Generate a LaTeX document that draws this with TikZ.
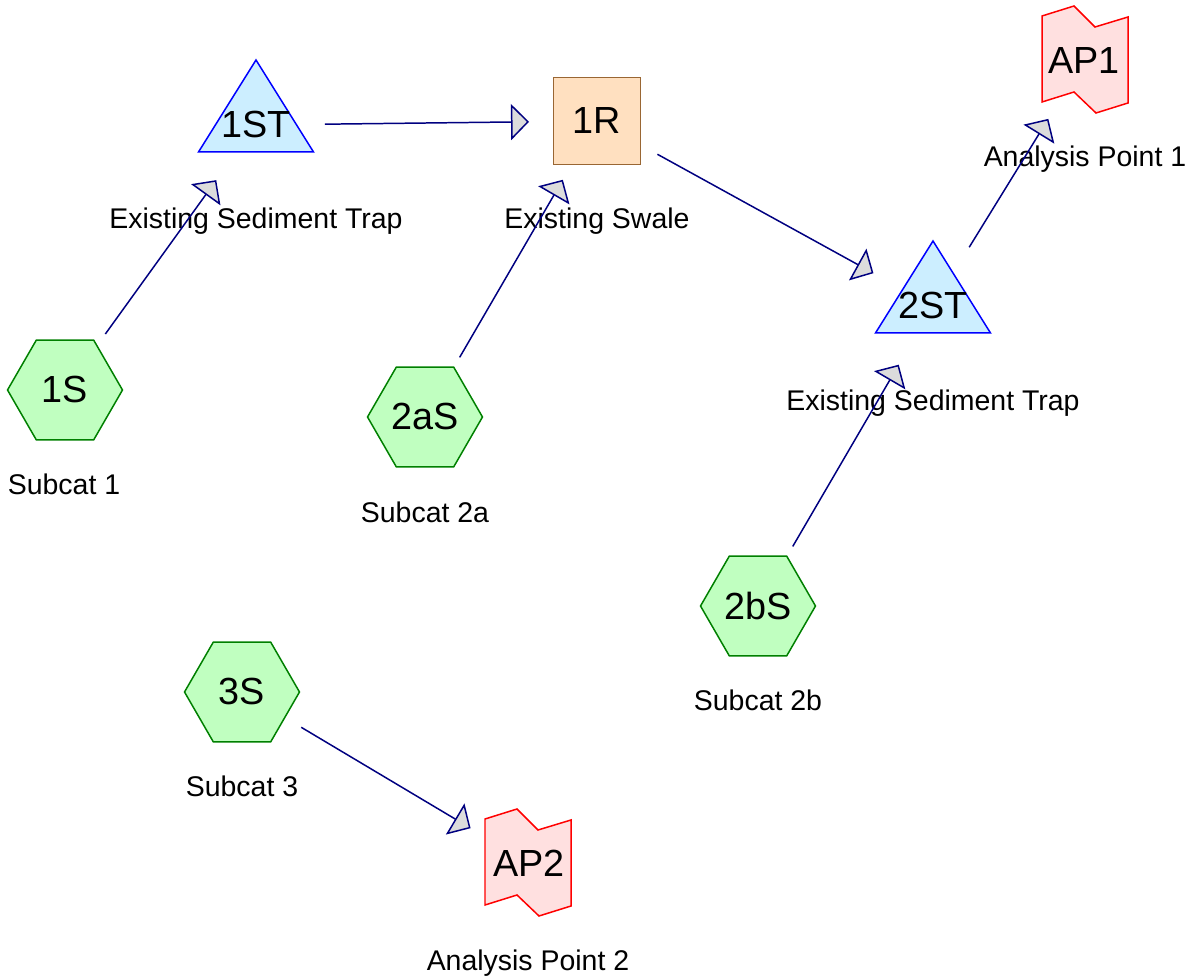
\documentclass[tikz,border=0pt]{standalone}
\usepackage{fontspec}
\setmainfont{Liberation Sans}
\definecolor{subFill}{HTML}{C0FFC0}
\definecolor{subLine}{HTML}{008000}
\definecolor{trapFill}{HTML}{CCEEFF}
\definecolor{trapLine}{HTML}{0000FF}
\definecolor{reachFill}{HTML}{FFE0C0}
\definecolor{reachLine}{HTML}{996633}
\definecolor{apFill}{HTML}{FFE0E0}
\definecolor{apLine}{HTML}{FF0000}
\definecolor{flowLine}{HTML}{000080}
\definecolor{flowHead}{HTML}{DCDCDC}
\usetikzlibrary{shapes.geometric, arrows.meta, positioning}

\begin{document}
\begin{tikzpicture}[x=0.02cm, y=-0.02cm,
  subcat/.style={regular polygon, regular polygon sides=6, minimum size=2.3cm,
    inner sep=0pt, fill=subFill, draw=subLine, line width=0.85pt,
    font=\fontsize{21.5pt}{25pt}\selectfont},
  reach/.style={rectangle, minimum size=1.74cm, inner sep=0pt, fill=reachFill,
    draw=reachLine, line width=0.85pt, font=\fontsize{21.5pt}{25pt}\selectfont},
  tag/.style={inner sep=0pt, font=\fontsize{21.5pt}{25pt}\selectfont},
  trap/.style={fill=trapFill, draw=trapLine, line width=0.85pt},
  apt/.style={fill=apFill, draw=apLine, line width=0.85pt},
  lbl/.style={anchor=base, inner sep=0pt, font=\fontsize{16.2pt}{20pt}\selectfont},
  flow/.style={draw=flowLine, line width=0.85pt, shorten <=1.38cm, shorten >=1.36cm,
    -{Triangle[length=0.36cm, width=0.72cm, fill=flowHead]}}]

  \useasboundingbox (0,0) rectangle (1188,979);

  % subcatchments
  \node[subcat] (s1) at (65,390) {1S};
  \node[subcat] (s2a) at (425,417) {2aS};
  \node[subcat] (s2b) at (758,606) {2bS};
  \node[subcat] (s3) at (242,692) {3S};

  % sediment traps
  \draw[trap] (198.5,152) -- (256,60) -- (313.5,152) -- cycle;
  \node[tag] (st1) at (256,125) {1ST};
  \draw[trap] (875.5,333) -- (933,241) -- (990.5,333) -- cycle;
  \node[tag] (st2) at (933,306) {2ST};

  % swale
  \node[reach] (r1) at (597,121) {1R};

  % analysis points
  \draw[apt, shift={(1085,60)}] (-43,-44) -- (-11,-54) -- (10,-33) -- (43,-43)
    -- (43,43) -- (11,53) -- (-11,32) -- (-43,42) -- cycle;
  \node[tag] (ap1) at (1084,61) {AP1};
  \draw[apt, shift={(528,863)}] (-43,-44) -- (-11,-54) -- (10,-33) -- (43,-43)
    -- (43,43) -- (11,53) -- (-11,32) -- (-43,42) -- cycle;
  \node[tag] (ap2) at (529,863) {AP2};

  % labels
  \node[lbl] (ls1) at (64,495) {Subcat 1};
  \node[lbl] (ls2a) at (425,523) {Subcat 2a};
  \node[lbl] (ls2b) at (758,711) {Subcat 2b};
  \node[lbl] (ls3) at (242,797) {Subcat 3};
  \node[lbl] (lst1) at (256,229) {Existing Sediment Trap};
  \node[lbl] (lr1) at (597,229) {Existing Swale};
  \node[lbl] (lst2) at (933,411) {Existing Sediment Trap};
  \node[lbl] (lap1) at (1085,167) {Analysis Point 1};
  \node[lbl] (lap2) at (528,971) {Analysis Point 2};

  % flows
  \draw[flow] (s1.center) -- (st1.center);
  \draw[flow] (s2a.center) -- (r1.center);
  \draw[flow] (st1.center) -- (r1.center);
  \draw[flow] (r1.center) -- (st2.center);
  \draw[flow] (s2b.center) -- (st2.center);
  \draw[flow] (st2.center) -- (ap1.center);
  \draw[flow] (s3.center) -- (ap2.center);
\end{tikzpicture}
\end{document}
